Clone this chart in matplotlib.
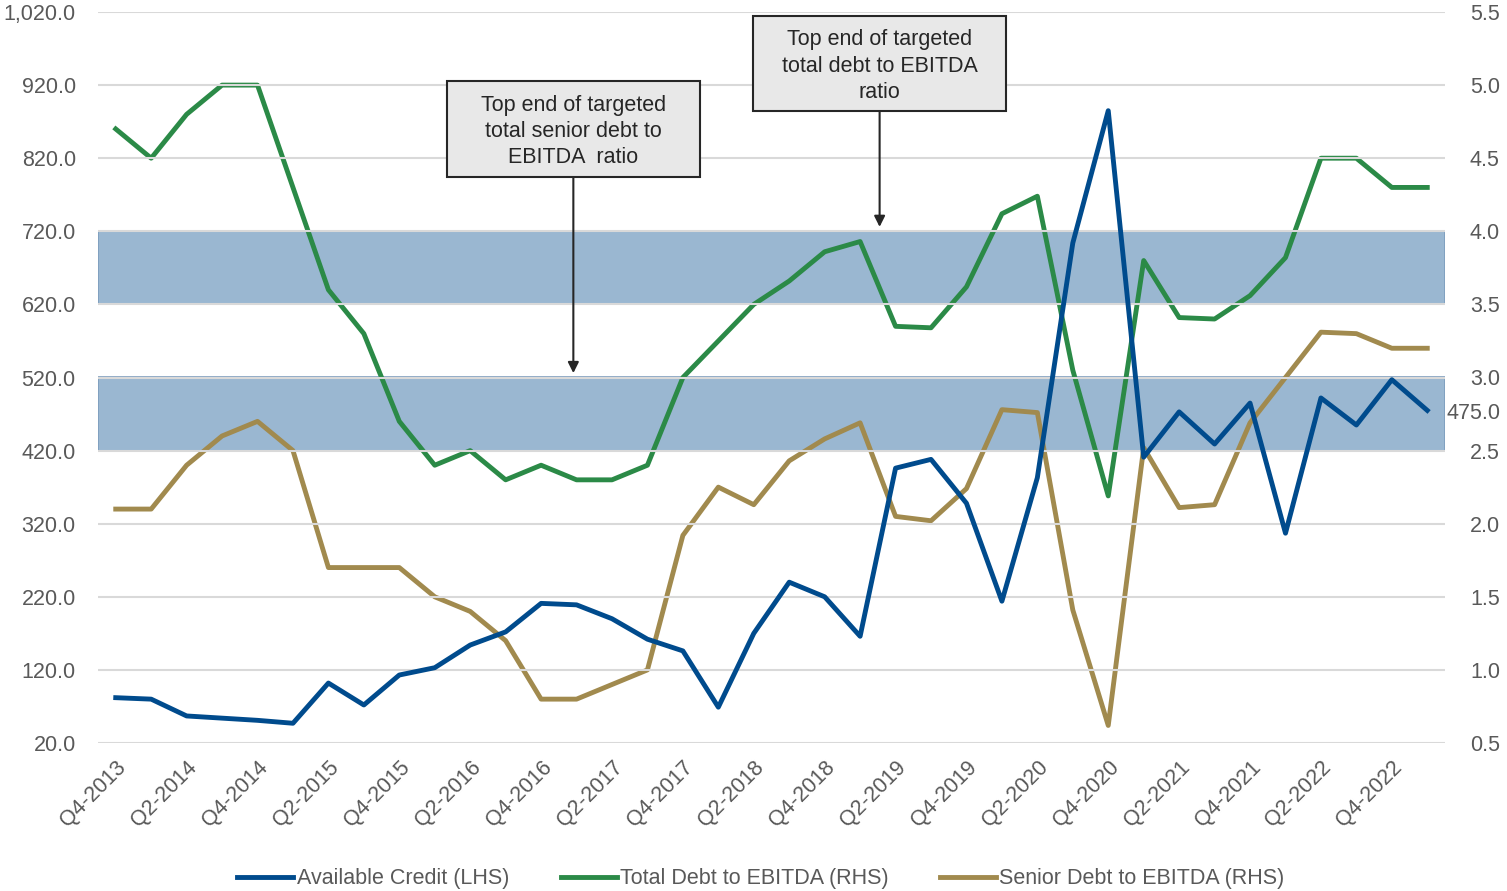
import matplotlib.pyplot as plt
from matplotlib.patches import Rectangle
import numpy as np

plt.rcParams['font.family'] = ['Liberation Sans', 'DejaVu Sans']

# Quarters Q4-2013 .. Q1-2023
quarters = ['Q4-2013'] + [f'Q{q}-{y}' for y in range(2014, 2023) for q in range(1, 5)] + ['Q1-2023']

available_credit = [82, 80, 57, 54, 51, 47, 102, 72, 113, 123,
                    154, 172, 211, 209, 190, 162, 146, 69, 170, 240,
                    220, 166, 396, 408, 348, 214, 383, 704, 885, 411,
                    473, 429, 485, 307, 492, 455, 517, 475]

total_debt_ebitda = [4.7, 4.5, 4.8, 5.0, 5.0, 4.3, 3.6, 3.3, 2.7, 2.4,
                     2.5, 2.3, 2.4, 2.3, 2.3, 2.4, 3.0, 3.25, 3.5, 3.66,
                     3.86, 3.93, 3.35, 3.34, 3.62, 4.12, 4.24, 3.05, 2.19, 3.8,
                     3.41, 3.4, 3.56, 3.82, 4.5, 4.5, 4.3, 4.3]

senior_debt_ebitda = [2.1, 2.1, 2.4, 2.6, 2.7, 2.5, 1.7, 1.7, 1.7, 1.5,
                      1.4, 1.2, 0.8, 0.8, 0.9, 1.0, 1.92, 2.25, 2.13, 2.43,
                      2.58, 2.69, 2.05, 2.02, 2.24, 2.78, 2.76, 1.41, 0.62, 2.52,
                      2.11, 2.13, 2.69, 3.0, 3.31, 3.3, 3.2, 3.2]

# target bands on the right-hand scale
senior_band = (2.5, 3.0)
total_band = (3.5, 4.0)

blue = '#004b8d'
green = '#2b8a47'
gold = '#a18a4e'
grey_text = '#595959'
dark = '#262626'

x = np.arange(len(quarters))

fig = plt.figure(figsize=(15.07, 8.91), dpi=100)
ax = fig.add_axes([98 / 1507, 1 - 743 / 891, (1445 - 98) / 1507, (743 - 12) / 891])
ax2 = ax.twinx()

ax.set_ylim(20, 1020)
ax2.set_ylim(0.5, 5.5)
ax.set_xlim(-0.5, len(quarters) - 0.5)

ax.set_yticks(np.arange(20, 1021, 100))
ax.set_yticklabels([f'{v:,.1f}' for v in np.arange(20, 1021, 100)])
ax2.set_yticks(np.arange(0.5, 5.51, 0.5))
ax2.set_yticklabels([f'{v:.1f}' for v in np.arange(0.5, 5.51, 0.5)])

ax.grid(axis='y', color='#d9d9d9', linewidth=1.5)
ax.set_axisbelow(True)

for a in (ax, ax2):
    for s in a.spines.values():
        s.set_visible(False)
    a.tick_params(length=0, labelsize=15.5, colors=grey_text)
ax.tick_params(axis='y', pad=16)
ax2.tick_params(axis='y', pad=18)

ax.set_xticks(x[::2])
ax.set_xticklabels(quarters[::2], rotation=45, ha='right', rotation_mode='anchor')
ax.tick_params(axis='x', pad=10)

# shaded target ranges
for lo, hi in (senior_band, total_band):
    ax2.axhspan(lo, hi, facecolor='#9ab7d1', edgecolor='#7d9dbd', linewidth=1.2, zorder=0)

ax.set_zorder(ax2.get_zorder() + 1)
ax.patch.set_visible(False)

l2, = ax2.plot(x, total_debt_ebitda, color=green, linewidth=3.5, label='Total Debt to EBITDA (RHS)', zorder=3)
l3, = ax2.plot(x, senior_debt_ebitda, color=gold, linewidth=3.5, label='Senior Debt to EBITDA (RHS)', zorder=3)
l1, = ax.plot(x, available_credit, color=blue, linewidth=3.5, label='Available Credit (LHS)', zorder=3)

ax.annotate(f'{available_credit[-1]:.1f}', xy=(x[-1], available_credit[-1]),
            xytext=(14, -2), textcoords='offset points', va='center', ha='left',
            fontsize=15.5, color=grey_text, annotation_clip=False)

# callout boxes with arrows pointing at the top of each band (RHS scale),
# drawn on the front axes so the grid stays behind them
callouts = [
    ('Top end of targeted\ntotal senior debt to\nEBITDA  ratio', (9.35, 16.47), (4.37, 5.03), 12.91, senior_band[1]),
    ('Top end of targeted\ntotal debt to EBITDA\nratio', (17.99, 25.11), (4.82, 5.47), 21.55, total_band[1]),
]
rhs = ax2.transData
for text, (x0, x1), (y0, y1), xa, ytip in callouts:
    ax.add_patch(Rectangle((x0, y0), x1 - x0, y1 - y0, transform=rhs, facecolor='#e8e8e8',
                           edgecolor=dark, linewidth=1.5, zorder=5, clip_on=False))
    ax.text((x0 + x1) / 2, (y0 + y1) / 2 - 0.015, text, transform=rhs, ha='center', va='center',
            fontsize=15.5, color=dark, linespacing=1.32, zorder=6)
    ax.annotate('', xy=(xa, ytip + 0.03), xytext=(xa, y0), xycoords=rhs, textcoords=rhs,
                arrowprops=dict(arrowstyle='-|>', color=dark, linewidth=1.5,
                                mutation_scale=16, shrinkA=0, shrinkB=0), zorder=6)

fig.legend(handles=[l1, l2, l3], loc='lower center', bbox_to_anchor=(0.505, -0.02),
           ncol=3, frameon=False, fontsize=15.5, labelcolor=grey_text,
           handlelength=2.6, handletextpad=0.15, columnspacing=2.4)

fig.savefig('out.png', dpi=100)
